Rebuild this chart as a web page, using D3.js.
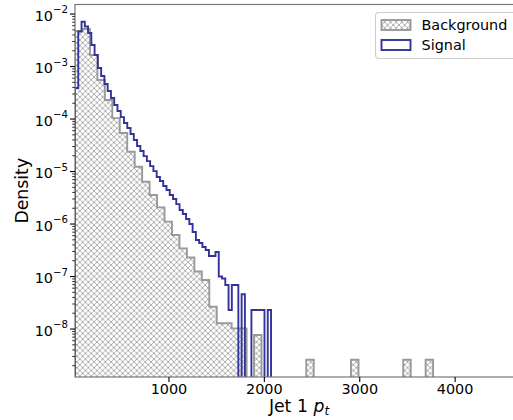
<!DOCTYPE html>
<html>
<head>
<meta charset="utf-8">
<script src="https://cdn.jsdelivr.net/npm/d3@7"></script>
<style>
  body { margin: 0; background: #fff; }
  svg text { font-family: "DejaVu Sans", sans-serif; fill: #000; }
</style>
</head>
<body>
<div id="chart"></div>
<script>
// background: 48 bins over [15, 3769], signal: 60 bins over [15, 2070]
const bgRange = [15, 3769];
const bgDensity = [
  4.75e-3, 5.2e-3, 1.66e-3, 5.53e-4, 2.30e-4, 1.04e-4, 5.41e-5, 2.38e-5,
  1.23e-5, 6.39e-6, 3.57e-6, 2.08e-6, 1.11e-6, 6.17e-7, 3.44e-7, 2.30e-7,
  1.25e-7, 8.57e-8, 2.66e-8, 1.29e-8, 1.29e-8, 1.03e-8, 1.03e-8, 0,
  7.7e-9, 0, 0, 0, 0, 0, 0, 2.6e-9,
  0, 0, 0, 0, 0, 2.6e-9, 0, 0,
  0, 0, 0, 0, 2.6e-9, 0, 0, 2.6e-9
];

const sigRange = [15, 2070];
const sigDensity = [
  3.89e-4, 4.65e-3, 7.13e-3, 5.78e-3, 4.35e-3, 2.57e-3, 1.66e-3, 9.36e-4,
  6.59e-4, 4.65e-4, 3.41e-4, 2.51e-4, 1.85e-4, 1.42e-4, 1.09e-4, 8.39e-5,
  6.74e-5, 5.18e-5, 3.98e-5, 3.06e-5, 2.46e-5, 1.97e-5, 1.58e-5, 1.27e-5,
  1.02e-5, 7.86e-6, 6.59e-6, 5.30e-6, 4.45e-6, 3.57e-6, 2.99e-6, 2.40e-6,
  1.85e-6, 1.55e-6, 1.25e-6, 1.00e-6, 7.05e-7, 4.96e-7, 4.35e-7, 3.65e-7,
  3.20e-7, 2.46e-7, 2.46e-7, 2.93e-7, 1.0e-7, 9.2e-8, 6.9e-8, 2.3e-8,
  6.9e-8, 6.9e-8, 0, 4.6e-8, 0, 0, 2.3e-8, 2.3e-8,
  2.3e-8, 2.3e-8, 0, 2.3e-8
];

const xTicks = [1000, 2000, 3000, 4000];
const yExponents = [-2, -3, -4, -5, -6, -7, -8];
const legendLabels = ['Background', 'Signal'];

const width = 513, height = 420;
const margin = { left: 75, right: 522, top: 4.5, bottom: 377 };
const bgColor = '#999999', sigColor = '#333399';

const svg = d3.select('#chart').append('svg')
  .attr('width', width)
  .attr('height', height);

const defs = svg.append('defs');
const hatch = defs.append('pattern')
  .attr('id', 'hatch')
  .attr('patternUnits', 'userSpaceOnUse')
  .attr('width', 5.7)
  .attr('height', 5.7);
hatch.append('path')
  .attr('d', 'M-1,-1L6.7,6.7M-1,6.7L6.7,-1')
  .attr('stroke', bgColor)
  .attr('stroke-width', 0.8);

defs.append('clipPath').attr('id', 'clip')
  .append('rect')
  .attr('x', margin.left).attr('y', margin.top)
  .attr('width', margin.right - margin.left)
  .attr('height', margin.bottom - margin.top);

const x = d3.scaleLinear()
  .domain([15, 4701])
  .range([margin.left, margin.right]);

const y = d3.scaleLog()
  .domain([1.22e-9, 1.52e-2])
  .range([margin.bottom, margin.top]);

function stepPath(range, values) {
  const n = values.length;
  const w = (range[1] - range[0]) / n;
  const yv = v => v > 0 ? y(v) : margin.bottom + 30;
  const pts = [[x(range[0]), margin.bottom + 30]];
  values.forEach((v, i) => {
    pts.push([x(range[0] + i * w), yv(v)]);
    pts.push([x(range[0] + (i + 1) * w), yv(v)]);
  });
  pts.push([x(range[1]), margin.bottom + 30]);
  return d3.line()(pts);
}

const plot = svg.append('g').attr('clip-path', 'url(#clip)');

plot.append('path')
  .attr('d', stepPath(bgRange, bgDensity))
  .attr('fill', 'url(#hatch)')
  .attr('stroke', bgColor)
  .attr('stroke-width', 1.9)
  .attr('stroke-linejoin', 'miter');

plot.append('path')
  .attr('d', stepPath(sigRange, sigDensity))
  .attr('fill', 'none')
  .attr('stroke', sigColor)
  .attr('stroke-width', 1.9)
  .attr('stroke-linejoin', 'miter');

// spines
const frame = svg.append('g');
frame.append('rect')
  .attr('x', margin.left).attr('y', margin.top)
  .attr('width', margin.right - margin.left)
  .attr('height', margin.bottom - margin.top)
  .attr('fill', 'none')
  .attr('stroke', '#777')
  .attr('stroke-width', 1.2);

// x axis
const xAxis = svg.append('g');
xAxis.selectAll('line')
  .data(xTicks).enter().append('line')
  .attr('x1', d => x(d)).attr('x2', d => x(d))
  .attr('y1', margin.bottom).attr('y2', margin.bottom + 5)
  .attr('stroke', '#000').attr('stroke-width', 1.1);
xAxis.selectAll('text')
  .data(xTicks).enter().append('text')
  .attr('x', d => x(d))
  .attr('y', margin.bottom + 16.5)
  .attr('text-anchor', 'middle')
  .attr('font-size', '14.4px')
  .text(d => d);

// y axis
const yAxis = svg.append('g');
const minor = [];
for (let e = -9; e <= -2; e++) {
  for (let m = 2; m <= 9; m++) {
    const v = m * Math.pow(10, e);
    if (v >= y.domain()[0] && v <= y.domain()[1]) minor.push(v);
  }
}
yAxis.selectAll('line.minor')
  .data(minor).enter().append('line')
  .attr('class', 'minor')
  .attr('x1', margin.left - 2.8).attr('x2', margin.left)
  .attr('y1', d => y(d)).attr('y2', d => y(d))
  .attr('stroke', '#000').attr('stroke-width', 0.8);
yAxis.selectAll('line.major')
  .data(yExponents).enter().append('line')
  .attr('class', 'major')
  .attr('x1', margin.left - 5).attr('x2', margin.left)
  .attr('y1', d => y(Math.pow(10, d))).attr('y2', d => y(Math.pow(10, d)))
  .attr('stroke', '#000').attr('stroke-width', 1.1);
const yLabels = yAxis.selectAll('text')
  .data(yExponents).enter().append('text')
  .attr('x', 68)
  .attr('y', d => y(Math.pow(10, d)) + 6.5)
  .attr('text-anchor', 'end')
  .attr('font-size', '14.4px');
yLabels.append('tspan').text('10');
yLabels.append('tspan')
  .attr('font-size', '10.2px')
  .attr('dy', -7.5)
  .text(d => '\u2212' + Math.abs(d));

// axis titles
svg.append('text')
  .attr('transform', `translate(28, ${(margin.top + margin.bottom) / 2}) rotate(-90)`)
  .attr('text-anchor', 'middle')
  .attr('font-size', '17.3px')
  .text('Density');

const xLabel = svg.append('text')
  .attr('x', 299)
  .attr('y', 411.5)
  .attr('text-anchor', 'middle')
  .attr('font-size', '17.3px');
xLabel.append('tspan').text('Jet 1 ');
xLabel.append('tspan').attr('font-style', 'italic').text('p');
xLabel.append('tspan')
  .attr('font-style', 'italic')
  .attr('font-size', '12px')
  .attr('dy', 3.5)
  .text('t');

// legend
const legend = svg.append('g');
legend.append('rect')
  .attr('x', 375.5).attr('y', 12.5)
  .attr('width', 160).attr('height', 46)
  .attr('rx', 3.5)
  .attr('fill', '#fff').attr('fill-opacity', 0.8)
  .attr('stroke', '#ccc').attr('stroke-width', 1.1);

const items = legend.selectAll('g.item')
  .data(legendLabels).enter().append('g')
  .attr('class', 'item')
  .attr('transform', (d, i) => `translate(0, ${25 + i * 20})`);
items.append('rect')
  .attr('x', 381.5).attr('y', -5)
  .attr('width', 29).attr('height', 10)
  .attr('fill', (d, i) => i === 0 ? 'url(#hatch)' : 'none')
  .attr('stroke', (d, i) => i === 0 ? bgColor : sigColor)
  .attr('stroke-width', 1.9);
items.append('text')
  .attr('x', 421.5)
  .attr('y', 5)
  .attr('font-size', '14.4px')
  .text(d => d);
</script>
</body>
</html>
